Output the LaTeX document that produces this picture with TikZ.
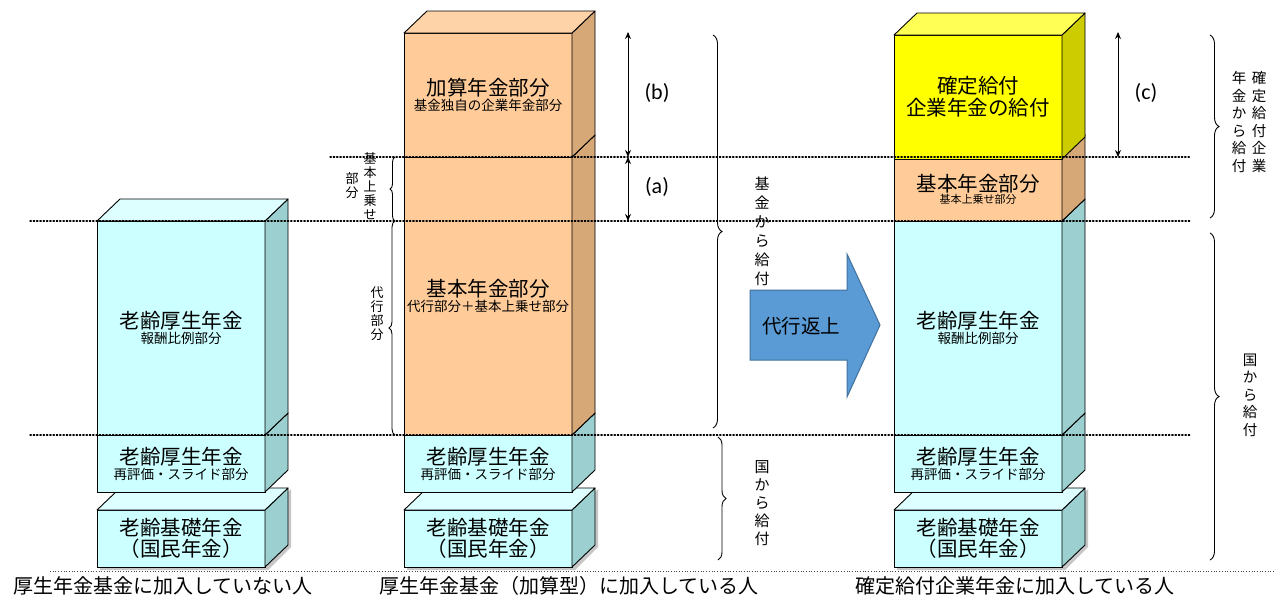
\documentclass[tikz,border=0pt]{standalone}
\usepackage{fontspec}
\setmainfont{Noto Sans CJK JP}
\newfontfamily\latinfont{Carlito}
\usetikzlibrary{decorations.pathreplacing,arrows.meta}
\definecolor{cyF}{HTML}{CCFFFF}
\definecolor{cyS}{HTML}{9CCFCF}
\definecolor{cyT}{HTML}{DDFFFF}
\definecolor{orF}{HTML}{FFCC99}
\definecolor{orS}{HTML}{D6A878}
\definecolor{orT}{HTML}{FFD3A8}
\definecolor{yeF}{HTML}{FFFF00}
\definecolor{yeS}{HTML}{CCCC00}
\definecolor{yeT}{HTML}{FFFF55}
\definecolor{arrowblue}{HTML}{5B9BD5}
\definecolor{arrowedge}{HTML}{41719C}
\newcommand\mainlab[1]{{\fontsize{20.5}{23}\selectfont #1}}
\newcommand\smalllab[1]{{\fontsize{13.5}{15}\selectfont #1}}
\newcommand\tinylab[1]{{\fontsize{11}{13}\selectfont #1}}
\newcommand\cubebox[7]{%
  \node[face, fill=#6F, minimum width=#4pt, minimum height=#5pt] (#1) at (#2,#3) {#7};
  \filldraw[edge, fill=#6S] (#1.north east) -- ++(23,-22) -- ([shift={(23,-22)}]#1.south east) -- (#1.south east) -- cycle;
  \filldraw[edge, fill=#6T] (#1.north west) -- ++(23,-22) -- ([shift={(23,-22)}]#1.north east) -- (#1.north east) -- cycle;
}
\tikzset{
  face/.style={draw=black, line width=0.9pt, inner sep=0pt, outer sep=0pt, align=center, text=black},
  edge/.style={draw=black, line width=0.9pt, line join=round},
  guide/.style={dotted, line width=1.3pt, line cap=round},
  thinguide/.style={dotted, line width=0.7pt, black!70},
  bracedeco/.style={decorate, decoration={brace, amplitude=#1}, line width=0.9pt},
  vtext/.style={align=center, inner sep=0pt},
  dimarrow/.style={{Stealth[length=7pt,width=6pt]}-{Stealth[length=7pt,width=6pt]}, line width=0.9pt},
  caption/.style={font=\fontsize{20}{24}\selectfont, inner sep=0pt},
  shadowfill/.style={fill=black!22}
}
\begin{document}
\begin{tikzpicture}[x=1pt,y=-1pt]
\useasboundingbox (0,0) rectangle (1274,598);
\fill[white] (0,0) rectangle (1274,598);

% bottom guide line
\draw[thinguide] (50,571) -- (1274,571);

% shadows for bottom boxes
\foreach \cx in {181,488,978} {
  \fill[shadowfill] (\cx-84+3,512) -- (\cx+84+3,512) -- (\cx+84+26,489) -- (\cx+84+26,547) -- (\cx+84+3,570) -- (\cx-84+3,570) -- cycle;
}

% column 1
\cubebox{c1base}{181}{538.5}{168}{57}{cy}{\mainlab{老齢基礎年金}\\[1pt]\mainlab{（国民年金）}}
\cubebox{c1slide}{181}{463.5}{168}{57}{cy}{\mainlab{老齢厚生年金}\\[1pt]\smalllab{再評価・スライド部分}}
\cubebox{c1prop}{181}{328}{168}{214}{cy}{\mainlab{老齢厚生年金}\\[1pt]\smalllab{報酬比例部分}}

% column 2
\cubebox{c2base}{488}{538.5}{168}{57}{cy}{\mainlab{老齢基礎年金}\\[1pt]\mainlab{（国民年金）}}
\cubebox{c2slide}{488}{463.5}{168}{57}{cy}{\mainlab{老齢厚生年金}\\[1pt]\smalllab{再評価・スライド部分}}
\cubebox{c2basic}{488}{296}{168}{278}{or}{\mainlab{基本年金部分}\\[1pt]\smalllab{代行部分＋基本上乗せ部分}}
\cubebox{c2add}{488}{95}{168}{124}{or}{\mainlab{加算年金部分}\\[1pt]\smalllab{基金独自の企業年金部分}}

% column 3
\cubebox{c3base}{978}{538.5}{168}{57}{cy}{\mainlab{老齢基礎年金}\\[1pt]\mainlab{（国民年金）}}
\cubebox{c3slide}{978}{463.5}{168}{57}{cy}{\mainlab{老齢厚生年金}\\[1pt]\smalllab{再評価・スライド部分}}
\cubebox{c3prop}{978}{328}{168}{214}{cy}{\mainlab{老齢厚生年金}\\[1pt]\smalllab{報酬比例部分}}
\cubebox{c3basic}{978}{189}{168}{64}{or}{\mainlab{基本年金部分}\\[0pt]\tinylab{基本上乗せ部分}}
\cubebox{c3db}{978}{97}{168}{124}{ye}{\mainlab{確定給付}\\[2pt]\mainlab{企業年金の給付}}

% dotted guide lines
\draw[guide] (330,157) -- (1190,157);
\draw[guide] (30,221) -- (1190,221);
\draw[guide] (30,435) -- (1190,435);

% dimension arrows
\coordinate (bTop) at (628,32);
\coordinate (abMid) at (628,157);
\coordinate (aBot) at (628,221);
\draw[dimarrow] (bTop) -- (abMid);
\draw[dimarrow] (abMid) -- (aBot);
\node[font=\latinfont\fontsize{22}{26}\selectfont] (blab) at (657,93) {(b)};
\node[font=\latinfont\fontsize{22}{26}\selectfont] (alab) at (657,187) {(a)};
\coordinate (cTop) at (1118,32);
\coordinate (cBot) at (1118,157);
\draw[dimarrow] (cTop) -- (cBot);
\node[font=\latinfont\fontsize{22}{26}\selectfont] (clab) at (1146,93) {(c)};

% braces left of column 2
\draw[bracedeco=5pt] (395,221) -- (395,157);
\draw[bracedeco=6pt] (395,435) -- (395,221);
\node[vtext, font=\fontsize{13}{14}\selectfont] (kihonjo) at (370,186) {基\\本\\上\\乗\\せ};
\node[vtext, font=\fontsize{13}{14}\selectfont] (bubun) at (352,186) {部\\分};
\node[vtext, font=\fontsize{13}{14}\selectfont] (daikou) at (377,314) {代\\行\\部\\分};

% braces right of column 2
\draw[bracedeco=9pt] (713,35) -- (713,428);
\draw[bracedeco=8pt] (718,437) -- (718,560);
\node[vtext, font=\fontsize{15}{19}\selectfont] (fundpay) at (762,231) {基\\金\\か\\ら\\給\\付};
\node[vtext, font=\fontsize{15}{18}\selectfont] (statepay2) at (762,503) {国\\か\\ら\\給\\付};

% braces right of column 3
\draw[bracedeco=9pt] (1210,35) -- (1210,218);
\draw[bracedeco=9pt] (1210,233) -- (1210,560);
\node[vtext, font=\fontsize{14.5}{17.5}\selectfont] (dbpay1) at (1259,122) {確\\定\\給\\付\\企\\業};
\node[vtext, font=\fontsize{14.5}{17.5}\selectfont] (dbpay2) at (1239,122) {年\\金\\か\\ら\\給\\付};
\node[vtext, font=\fontsize{14.5}{17.5}\selectfont] (statepay3) at (1250,395) {国\\か\\ら\\給\\付};

% block arrow
\filldraw[fill=arrowblue, draw=arrowedge, line width=1pt, line join=miter]
  (750,290) -- (847,290) -- (847,254) -- (880,325) -- (847,397) -- (847,360) -- (750,360) -- cycle;
\node[font=\fontsize{19.5}{22}\selectfont] (henjo) at (801,326) {代行返上};

% captions
\node[caption] (cap1) at (163,586) {厚生年金基金に加入していない人};
\node[caption] (cap2) at (569,586) {厚生年金基金（加算型）に加入している人};
\node[caption] (cap3) at (1015,586) {確定給付企業年金に加入している人};
\end{tikzpicture}
\end{document}
